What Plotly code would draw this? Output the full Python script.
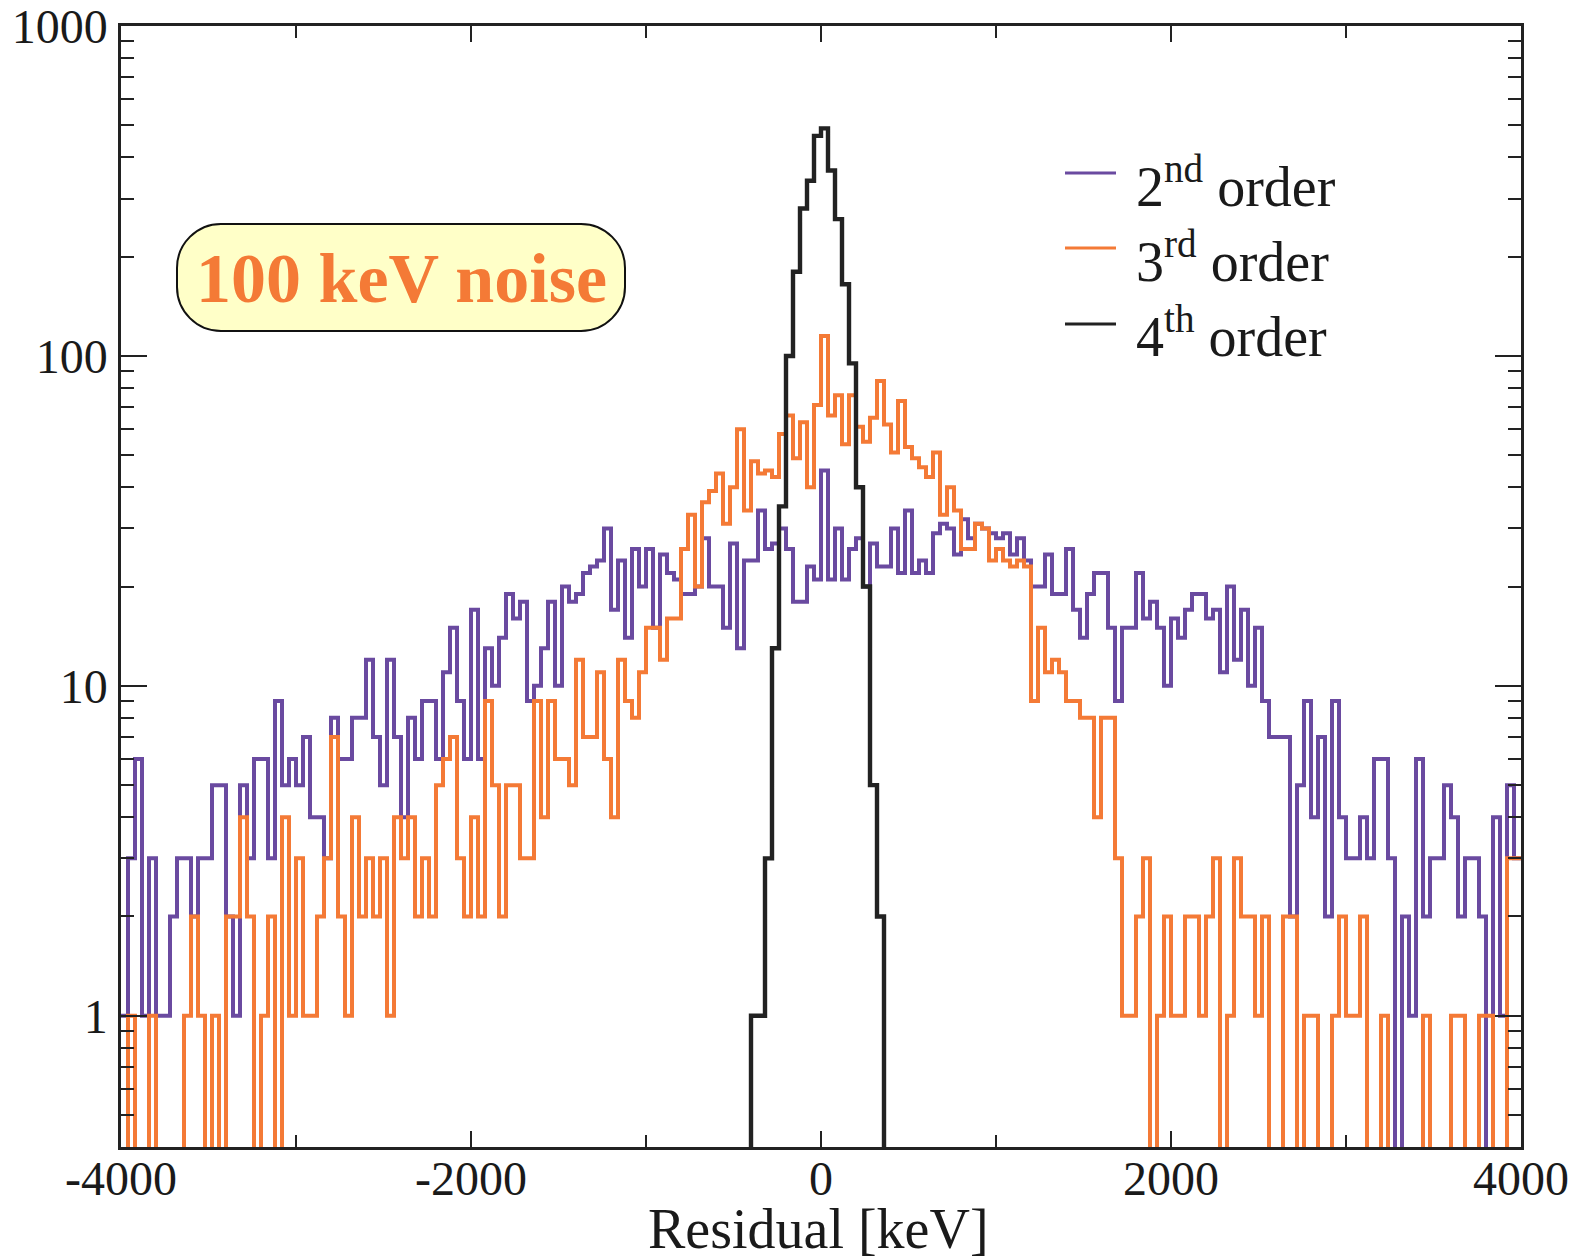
import numpy as np
import plotly.graph_objects as go

# Histogram binning of the residuals (keV)
BIN_LO = -4000
BIN_W = 40

# Counts per 40 keV bin, -4000 .. 4000 keV (200 bins)
second_order = [
    1, 3, 6, 1, 3, 1, 1, 2, 3, 3, 2, 3, 3, 5, 5, 2, 1, 5, 3, 6,
    6, 3, 9, 5, 6, 5, 7, 4, 4, 3, 8, 6, 6, 8, 8, 12, 7, 5, 12, 7,
    4, 8, 6, 9, 9, 6, 11, 15, 9, 6, 17, 6, 13, 10, 14, 19, 16, 18, 9, 10,
    13, 18, 10, 20, 18, 19, 22, 23, 24, 30, 17, 24, 14, 26, 20, 26, 15, 25, 22, 21,
    19, 19, 20, 28, 20, 20, 15, 27, 13, 24, 24, 34, 26, 27, 30, 26, 18, 18, 23, 21,
    45, 21, 30, 21, 26, 28, 20, 27, 23, 23, 30, 22, 34, 22, 24, 22, 29, 31, 30, 25,
    32, 28, 31, 30, 29, 28, 29, 25, 28, 24, 20, 20, 25, 19, 19, 26, 17, 14, 19, 22,
    22, 15, 9, 15, 15, 22, 16, 18, 15, 10, 16, 14, 17, 19, 19, 16, 17, 11, 20, 12,
    17, 10, 15, 9, 7, 7, 7, 2, 5, 9, 4, 7, 2, 9, 4, 3, 3, 4, 3, 6,
    6, 3, 0, 2, 1, 6, 2, 3, 3, 5, 4, 2, 3, 3, 2, 0, 4, 1, 5, 3,
]

third_order = [
    0, 1, 0, 0, 1, 0, 0, 0, 0, 1, 2, 1, 0, 1, 0, 2, 2, 4, 2, 0,
    1, 2, 0, 4, 1, 3, 1, 1, 2, 3, 7, 2, 1, 4, 2, 3, 2, 3, 1, 4,
    3, 4, 2, 3, 2, 5, 6, 7, 3, 2, 4, 2, 9, 5, 2, 5, 5, 3, 3, 9,
    4, 9, 6, 6, 5, 12, 7, 7, 11, 6, 4, 12, 9, 8, 11, 15, 15, 12, 16, 16,
    26, 33, 20, 36, 39, 44, 31, 40, 60, 34, 48, 44, 45, 43, 58, 66, 49, 63, 40, 71,
    115, 66, 76, 54, 76, 61, 55, 65, 84, 62, 51, 73, 53, 49, 46, 43, 51, 33, 40, 34,
    26, 26, 31, 30, 24, 26, 24, 23, 24, 23, 9, 15, 11, 12, 11, 9, 9, 8, 8, 4,
    8, 8, 3, 1, 1, 2, 3, 0, 1, 2, 1, 1, 2, 2, 1, 2, 3, 0, 1, 3,
    2, 2, 1, 2, 0, 0, 2, 2, 0, 1, 1, 0, 0, 1, 2, 1, 1, 2, 0, 0,
    1, 0, 0, 0, 0, 0, 1, 0, 0, 0, 1, 1, 0, 0, 1, 1, 0, 0, 3, 3,
]

# 4th order is only populated in the central bins, starting at -400 keV
fourth_start = -400
fourth_order = [1, 1, 3, 13, 35, 100, 180, 280, 340, 465,
                490, 365, 260, 165, 95, 40, 20, 5, 2]

series_names = ["2nd order", "3rd order", "4th order"]
legend_labels = ["2<sup>nd</sup> order", "3<sup>rd</sup> order", "4<sup>th</sup> order"]
colors = ["#6a4aa0", "#f47a36", "#222222"]

x_ticks = [-4000, -2000, 0, 2000, 4000]
x_tick_text = ["-4000", "-2000", "0", "2000", "4000"]
x_minor = [-3000, -1000, 1000, 3000]
y_ticks = [1, 10, 100, 1000]
y_tick_text = ["1", "10", "100", "1000"]

FLOOR = 1e-2  # empty bins drop below the visible range


def step_points(start, counts, close_ends):
    counts = np.asarray(counts, dtype=float)
    edges = start + BIN_W * np.arange(len(counts) + 1)
    ys = np.where(counts > 0, counts, FLOOR)
    xs = list(edges[:-1]) + [edges[-1]]
    ys = list(ys) + [ys[-1]]
    if close_ends:
        xs = [edges[0]] + xs + [edges[-1]]
        ys = [FLOOR] + ys + [FLOOR]
    return xs, ys


W, H = 1580, 1260
ML, MR, MT, MB = 121, 59, 26, 113
PW, PH = W - ML - MR, H - MT - MB


def px_x(px):
    return (px - ML) / PW


def px_y(py):
    return (H - MB - py) / PH


fig = go.Figure()

for name, counts, start, close, col, lw in [
    (series_names[0], second_order, BIN_LO, False, colors[0], 4.0),
    (series_names[1], third_order, BIN_LO, False, colors[1], 4.0),
    (series_names[2], fourth_order, fourth_start, True, colors[2], 4.4),
]:
    xs, ys = step_points(start, counts, close)
    fig.add_trace(go.Scatter(
        x=xs, y=ys, mode="lines", name=name,
        line=dict(color=col, width=lw, shape="hv"),
        showlegend=False, hoverinfo="skip",
    ))

serif = "Liberation Serif"
axis_col = "#222222"

fig.update_xaxes(
    range=[-4000, 4000], tickmode="array", tickvals=x_ticks, ticktext=x_tick_text,
    ticks="inside", ticklen=16, tickwidth=2, tickcolor=axis_col,
    minor=dict(tickmode="array", tickvals=x_minor, ticks="inside",
               ticklen=12, tickwidth=2, tickcolor=axis_col, showgrid=False),
    showline=True, linecolor=axis_col, linewidth=2.5, mirror="allticks",
    showgrid=False, zeroline=False, automargin=False,
    tickfont=dict(family=serif, size=48, color="#1a1a1a"),
    ticklabelstandoff=-12, ticklabeloverflow="allow",
)

y_minor = [m * 10 ** d for d in range(-1, 3) for m in range(2, 10) if 0.4 < m * 10 ** d < 1000]
fig.update_yaxes(
    type="log", range=[np.log10(0.4), 3.0004], tickmode="array",
    tickvals=y_ticks, ticktext=y_tick_text,
    ticks="inside", ticklen=26, tickwidth=2, tickcolor=axis_col,
    minor=dict(tickmode="array", tickvals=y_minor, ticks="inside",
               ticklen=13, tickwidth=2, tickcolor=axis_col, showgrid=False),
    showline=True, linecolor=axis_col, linewidth=2.5, mirror="allticks",
    showgrid=False, zeroline=False, automargin=False,
    tickfont=dict(family=serif, size=48, color="#1a1a1a"),
    ticklabelstandoff=1, ticklabeloverflow="allow",
)

# Custom legend: short coloured strokes with labels
legend_line_y = [173, 248, 324]
shapes = []
annotations = []
for lab, col, ly in zip(legend_labels, colors, legend_line_y):
    shapes.append(dict(type="line", xref="paper", yref="paper",
                       x0=px_x(1065), x1=px_x(1116), y0=px_y(ly), y1=px_y(ly),
                       line=dict(color=col, width=3.2)))
    annotations.append(dict(xref="paper", yref="paper", x=px_x(1134), y=px_y(ly + 9),
                            xanchor="left", yanchor="middle", showarrow=False,
                            text=lab, font=dict(family=serif, size=56, color="#1a1a1a")))

# Rounded label box
x0, x1 = px_x(177), px_x(625)
y0, y1 = px_y(331), px_y(224)
r = 44
rx, ry = r / PW, r / PH
k = 0.5523
path = (
    f"M {x0 + rx},{y1} L {x1 - rx},{y1} "
    f"C {x1 - rx + k * rx},{y1} {x1},{y1 - ry + k * ry} {x1},{y1 - ry} "
    f"L {x1},{y0 + ry} "
    f"C {x1},{y0 + ry - k * ry} {x1 - rx + k * rx},{y0} {x1 - rx},{y0} "
    f"L {x0 + rx},{y0} "
    f"C {x0 + rx - k * rx},{y0} {x0},{y0 + ry - k * ry} {x0},{y0 + ry} "
    f"L {x0},{y1 - ry} "
    f"C {x0},{y1 - ry + k * ry} {x0 + rx - k * rx},{y1} {x0 + rx},{y1} Z"
)
shapes.append(dict(type="path", xref="paper", yref="paper", path=path,
                   fillcolor="#ffffc8", line=dict(color="#111111", width=2), layer="above"))
annotations.append(dict(xref="paper", yref="paper", x=px_x(401), y=px_y(278),
                        xanchor="center", yanchor="middle", showarrow=False,
                        text="<b>100 keV noise</b>",
                        font=dict(family=serif, size=70, color="#f47a36")))

# Axis title
annotations.append(dict(xref="paper", yref="paper", x=px_x(818), y=px_y(1229),
                        xanchor="center", yanchor="middle", showarrow=False,
                        text="Residual [keV]",
                        font=dict(family=serif, size=56, color="#1a1a1a")))

fig.update_layout(
    width=W, height=H,
    margin=dict(l=ML, r=MR, t=MT, b=MB, pad=0, autoexpand=False),
    paper_bgcolor="white", plot_bgcolor="white",
    shapes=shapes, annotations=annotations,
    showlegend=False,
)

fig.write_html("out.html")
